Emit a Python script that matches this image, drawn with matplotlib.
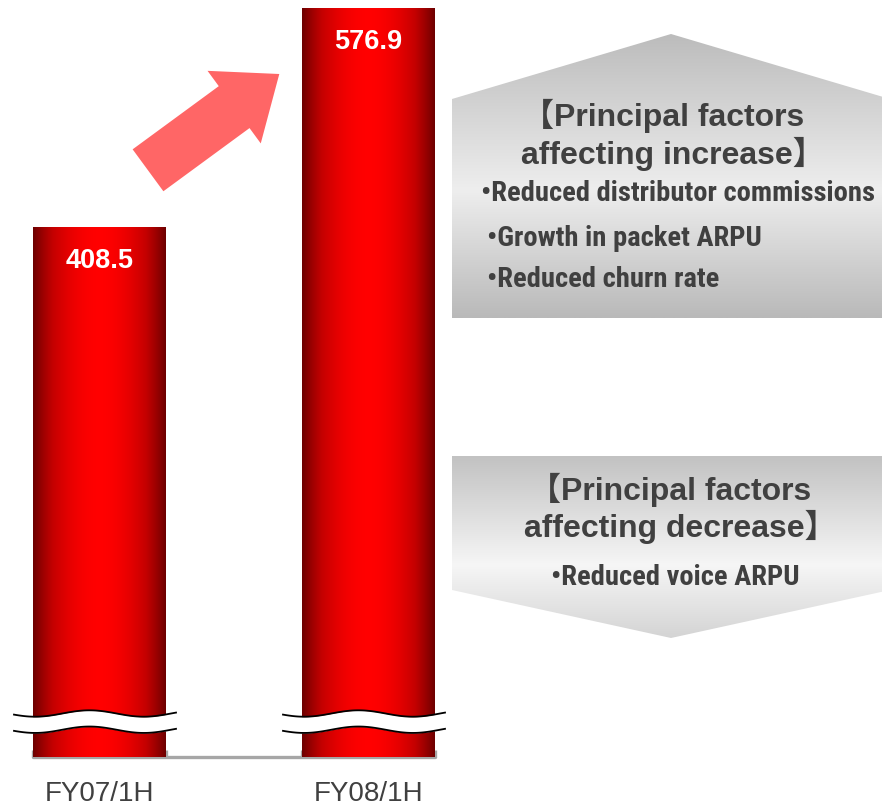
import numpy as np
import matplotlib.pyplot as plt
from matplotlib.patches import Polygon, FancyArrow
from matplotlib.colors import LinearSegmentedColormap
from matplotlib import font_manager

# ARPU by half-year (yen)
periods = ['FY07/1H', 'FY08/1H']
arpu = [408.5, 576.9]

increase_title = ['【Principal factors', 'affecting increase】']
increase_factors = ['Reduced distributor commissions', 'Growth in packet ARPU', 'Reduced churn rate']
decrease_title = ['【Principal factors', 'affecting decrease】']
decrease_factors = ['Reduced voice ARPU']

TEXT = '#404040'
TITLE_FONT = ['Liberation Sans', 'Noto Sans CJK JP']

# narrowest installed sans for the factor lists
installed = {f.name for f in font_manager.fontManager.ttflist}
for name in ['Roboto Condensed', 'Liberation Sans Narrow', 'DejaVu Sans Condensed', 'Roboto']:
    if name in installed:
        ITEM_FONT = name
        break
else:
    ITEM_FONT = 'Liberation Sans'
ITEM_SIZE = {'Liberation Sans Narrow': 20, 'Roboto Condensed': 20.5,
             'DejaVu Sans Condensed': 17, 'Roboto': 18}.get(ITEM_FONT, 17)

fig = plt.figure(figsize=(8.82, 8.06), dpi=100)

# bar axes: y runs from zero at the grey base line, x in category slots
ax = fig.add_axes([0, 0, 1, 1])
ax.axis('off')
px = 749 / 576.9          # pixels per yen
slot = 269                # pixels between bar centres
bar_w = 133 / slot

cyl = LinearSegmentedColormap.from_list('cyl', ['#680000', '#c40000', '#ff0000'])
shade = np.sin(np.linspace(0.02, np.pi - 0.02, 256)) ** 0.9

for i, v in enumerate(arpu):
    bar = ax.bar(i, v, width=bar_w, color='none', linewidth=0, zorder=2)[0]
    img = ax.imshow(shade[np.newaxis, :], cmap=cyl, aspect='auto', vmin=0, vmax=1,
                    extent=(i - bar_w / 2, i + bar_w / 2, 0, v), zorder=2)
    img.set_clip_path(bar)
    ax.annotate(f'{v:.1f}', (i, v), xytext=(0, -29.5), textcoords='offset points',
                ha='center', va='baseline', color='white', fontsize=19.5,
                fontweight='bold', family='Liberation Sans', zorder=5)
    ax.annotate(periods[i], (i, 0), xytext=(0, -31.5), textcoords='offset points',
                ha='center', va='baseline', color=TEXT, fontsize=20,
                family='Liberation Sans')

    # axis break across the lower part of the bar
    xs = np.linspace(i - bar_w / 2 - 19 / slot, i + bar_w / 2 + 10 / slot, 120)
    t = np.linspace(0, 1, xs.size)
    wave = -3.2 * np.sin(2 * np.pi * (1.49 * t + 0.056)) / px
    upper = 33.5 + wave
    lower = 21.0 + wave
    ax.fill_between(xs, lower, upper, color='white', linewidth=0, zorder=3)
    ax.plot(xs, upper, color='black', lw=1.3, zorder=4)
    ax.plot(xs, lower, color='black', lw=1.3, zorder=4)

# grey base line with end ticks at the bar edges
edges = [k + s * bar_w / 2 for k in range(len(arpu)) for s in (-1, 1)]
ax.plot([edges[0], edges[-1]], [0, 0], color='#a6a6a6', lw=2.4,
        solid_capstyle='round', zorder=1)
ax.vlines(edges, 0, 7 / px, color='#a6a6a6', lw=2.4, zorder=1)

ax.set_xlim(-99.5 / slot, (882 - 99.5) / slot)
ax.set_ylim(-49 / px, 757 / px)

# decoration layer in pixel units
deco = fig.add_axes([0, 0, 1, 1])
deco.axis('off')
deco.patch.set_alpha(0)

deco.add_patch(FancyArrow(148, 170.3, 131.3, -96.3, width=52, head_width=90,
                          head_length=56, length_includes_head=True,
                          color='#ff6666', linewidth=0))


def grey_panel(verts, top, bottom, stops):
    cmap = LinearSegmentedColormap.from_list('panel', stops)
    poly = Polygon(verts, closed=True, facecolor='none', edgecolor='none')
    deco.add_patch(poly)
    grad = np.linspace(0, 1, 256)[:, np.newaxis]
    img = deco.imshow(grad, cmap=cmap, aspect='auto', origin='upper',
                      extent=(452, 890, bottom, top), zorder=1)
    img.set_clip_path(poly)


grey_panel([(452, 318), (452, 99), (671, 34), (890, 99), (890, 318)], 34, 318,
           [(0, '#bcbcbc'), (0.55, '#eeeeee'), (1, '#b9b9b9')])
grey_panel([(452, 456), (890, 456), (890, 590), (671, 638), (452, 590)], 456, 638,
           [(0, '#c2c2c2'), (0.6, '#f6f6f6'), (1, '#d4d4d4')])

for line, x, y in zip(increase_title, [663, 673], [126, 164]):
    deco.text(x, y, line, ha='center', va='baseline', fontsize=23,
              fontweight='bold', color=TEXT, family=TITLE_FONT, zorder=3)
for item, x, y in zip(increase_factors, [481, 487, 487], [201, 246, 287]):
    deco.text(x, y, '•' + item, ha='left', va='baseline', fontsize=ITEM_SIZE,
              fontweight='bold', color=TEXT, family=ITEM_FONT, zorder=3)

for line, x, y in zip(decrease_title, [670, 680], [500, 537]):
    deco.text(x, y, line, ha='center', va='baseline', fontsize=23,
              fontweight='bold', color=TEXT, family=TITLE_FONT, zorder=3)
for item in decrease_factors:
    deco.text(551, 585, '•' + item, ha='left', va='baseline', fontsize=ITEM_SIZE,
              fontweight='bold', color=TEXT, family=ITEM_FONT, zorder=3)

deco.set_xlim(0, 882)
deco.set_ylim(806, 0)

fig.savefig('out.png', dpi=100)
